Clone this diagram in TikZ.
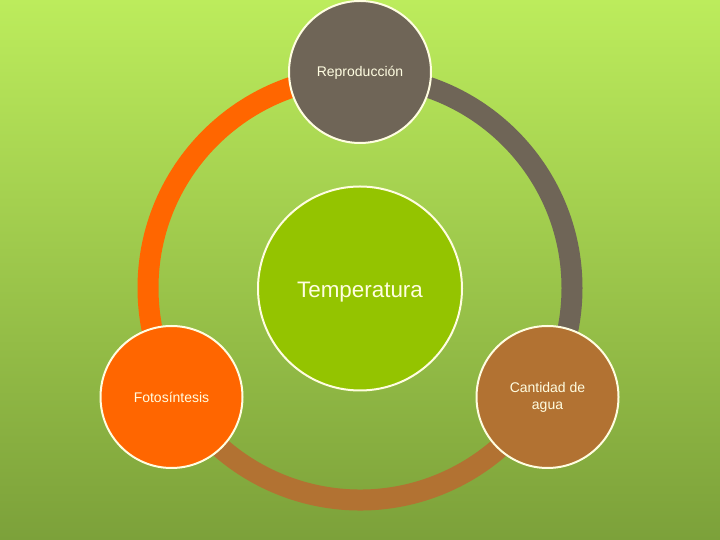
\documentclass[tikz,border=0pt]{standalone}
\usepackage{fontspec}
\setmainfont{Liberation Sans}
\usetikzlibrary{calc}
\definecolor{bgtop}{RGB}{188,236,92}
\definecolor{bgbottom}{RGB}{124,161,58}
\definecolor{rimwhite}{RGB}{255,253,225}
\definecolor{stone}{RGB}{111,101,87}
\definecolor{flame}{RGB}{255,102,0}
\definecolor{clay}{RGB}{178,114,50}
\definecolor{leaf}{RGB}{148,196,0}
\tikzset{
  factor/.style={circle, draw=rimwhite, line width=2pt, minimum size=142pt,
    inner sep=0pt, text=rimwhite, align=center, font=\fontsize{14}{16.8}\selectfont},
  ring/.style={line width=21pt}
}
\begin{document}
\begin{tikzpicture}[x=1pt, y=1pt]
            % Background
            \shade[top color=bgtop, bottom color=bgbottom] (0,0) rectangle (720,540);
            \useasboundingbox (0,0) rectangle (720,540);

            % Ring points with manual coordinates
            \coordinate (hub) at (360,252);
            \coordinate (rtop) at ($(hub)+(90:212)$);
            \coordinate (rleft) at ($(hub)+(210:212)$);
            \coordinate (rright) at ($(hub)+(330:212)$);

            % Ring
            \draw[ring, flame] (rtop) arc[start angle=90, end angle=210, radius=212pt];
            \draw[ring, stone] (rtop) arc[start angle=90, end angle=-30, radius=212pt];
            \draw[ring, clay] (rleft) arc[start angle=210, end angle=330, radius=212pt];

            % Nodes with manual coordinates
            \node[factor, fill=leaf, minimum size=204pt, font=\fontsize{22.4}{26}\selectfont,
              text height=22pt, text depth=4.6pt] (temp) at (360,251.5) {Temperatura};
            \node[factor, fill=stone, text height=12.5pt, text depth=2.9pt] (repro) at (360,468) {Reproducción};
            \node[factor, fill=flame] (foto) at (171.5,143) {Fotosíntesis};
            \node[factor, fill=clay] (agua) at (547.5,143) {Cantidad de\\agua};
        \end{tikzpicture}
\end{document}
